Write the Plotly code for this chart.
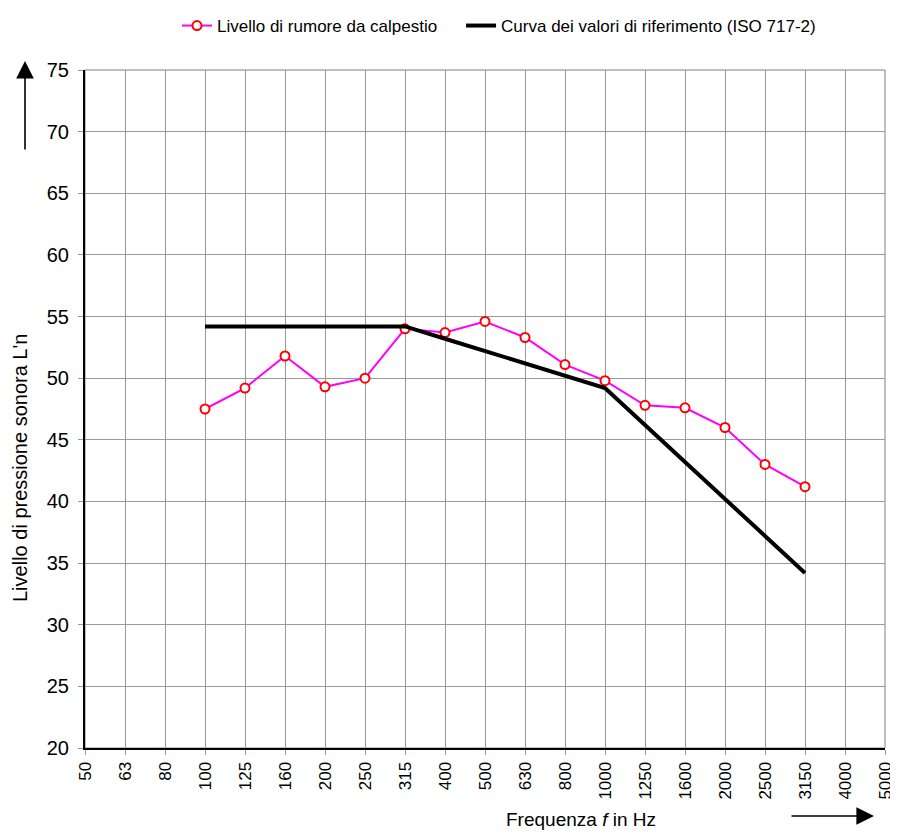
import plotly.graph_objects as go

categories = ["50", "63", "80", "100", "125", "160", "200", "250", "315", "400",
              "500", "630", "800", "1000", "1250", "1600", "2000", "2500", "3150", "4000", "5000"]
meas_freq = ["100", "125", "160", "200", "250", "315", "400", "500", "630", "800",
             "1000", "1250", "1600", "2000", "2500", "3150"]
meas_vals = [47.5, 49.2, 51.8, 49.3, 50.0, 54.0, 53.7, 54.6, 53.3, 51.1,
             49.8, 47.8, 47.6, 46.0, 43.0, 41.2]
ref_vals = [54.2, 54.2, 54.2, 54.2, 54.2, 54.2, 53.2, 52.2, 51.2, 50.2,
            49.2, 46.2, 43.2, 40.2, 37.2, 34.2]
y_ticks = [20, 25, 30, 35, 40, 45, 50, 55, 60, 65, 70, 75]

idx = {c: i for i, c in enumerate(categories)}
xm = [idx[f] for f in meas_freq]

FONT = "Liberation Sans, Arial, sans-serif"
# the page body has an 8px margin, so the figure is shifted by 8px; compensate
OFF = 8
W, H = 898 - OFF, 834 - OFF
L, T = 85 - OFF, 70 - OFF
R, B = 13, 86
PW, PH = W - L - R, H - T - B


def px_x(p):
    return (p - OFF - L) / PW


def px_y(p):
    return (H - B - (p - OFF)) / PH


NB = "\u00a0"

fig = go.Figure()
fig.add_trace(go.Scatter(
    x=xm, y=meas_vals, mode="lines+markers",
    name="Livello di rumore da calpestio" + NB * 4,
    line=dict(color="#FF00FF", width=2),
    marker=dict(symbol="circle", size=9, color="white", line=dict(color="#FF0000", width=2)),
))
fig.add_trace(go.Scatter(
    x=xm, y=ref_vals, mode="lines",
    name="Curva dei valori di riferimento (ISO 717-2)",
    line=dict(color="black", width=4),
))

fig.add_shape(type="rect", xref="paper", yref="paper", x0=0, x1=1, y0=0, y1=1,
              line=dict(color="#808080", width=1), layer="below")

fig.update_layout(
    width=W, height=H,
    margin=dict(l=L, r=R, t=T, b=B),
    paper_bgcolor="white", plot_bgcolor="white",
    font=dict(family=FONT, color="black"),
    showlegend=True,
    legend=dict(orientation="h", xref="paper", x=px_x(177), xanchor="left",
                yref="container", y=1.0, yanchor="top",
                font=dict(size=17), bgcolor="rgba(0,0,0,0)"),
    xaxis=dict(
        range=[0, 20], tickmode="array", tickvals=list(range(len(categories))),
        ticktext=categories, tickangle=-90, tickfont=dict(size=17),
        showgrid=True, gridcolor="#999999", gridwidth=1,
        showline=True, linecolor="black", linewidth=2,
        ticks="outside", ticklen=5, tickcolor="#999999",
        zeroline=False, automargin=False,
    ),
    yaxis=dict(
        range=[20, 75], tickmode="array", tickvals=y_ticks,
        tickfont=dict(size=20), ticklabelstandoff=5,
        showgrid=True, gridcolor="#999999", gridwidth=1,
        showline=True, linecolor="black", linewidth=2,
        ticks="outside", ticklen=5, tickcolor="#999999",
        zeroline=False, automargin=False,
    ),
)

fig.add_annotation(text="Livello di pressione sonora L'n", xref="paper", yref="paper",
                   x=px_x(20), y=px_y(468), textangle=-90, showarrow=False,
                   font=dict(size=20, family=FONT), xanchor="center", yanchor="middle")
fig.add_annotation(text="Frequenza <i>f</i> in Hz", xref="paper", yref="paper",
                   x=px_x(581), y=px_y(819), showarrow=False, xanchor="center", yanchor="middle",
                   font=dict(size=19, family=FONT))
# vertical arrow
fig.add_annotation(xref="paper", yref="paper", x=px_x(25), y=px_y(61),
                   ax=0, ay=90, axref="pixel", ayref="pixel",
                   showarrow=True, text="", arrowhead=2, arrowsize=2.2, arrowwidth=1.6, arrowcolor="black")
# horizontal arrow
fig.add_annotation(xref="paper", yref="paper", x=px_x(874), y=px_y(816),
                   ax=-84, ay=0, axref="pixel", ayref="pixel",
                   showarrow=True, text="", arrowhead=2, arrowsize=2.2, arrowwidth=1.6, arrowcolor="black")

fig.write_html("out.html")
